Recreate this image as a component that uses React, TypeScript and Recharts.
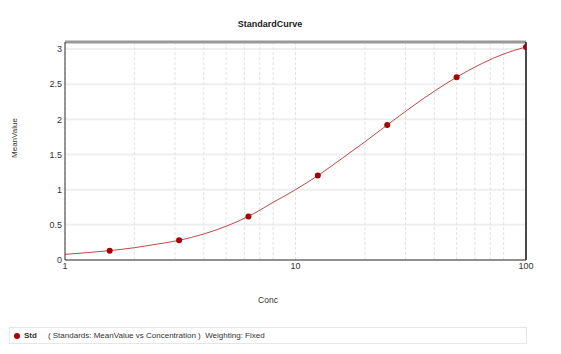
import { ComposedChart, Line, Scatter, XAxis, YAxis, CartesianGrid, ReferenceLine } from 'recharts';

// standards (concentration vs mean value)
const stdConc = [1.5625, 3.125, 6.25, 12.5, 25, 50, 100];
const stdMean = [0.133, 0.28, 0.62, 1.2, 1.92, 2.6, 3.03];

// fitted curve
const fitConc = [1, 1.25, 1.5625, 2, 2.5, 3.125, 4, 5, 6.25, 8, 10, 12.5, 16, 20, 25, 32, 40, 50, 64, 80, 100];
const fitMean = [0.08, 0.105, 0.133, 0.175, 0.225, 0.28, 0.37, 0.48, 0.62, 0.82, 1.0, 1.2, 1.45, 1.68, 1.92, 2.18, 2.4, 2.6, 2.79, 2.93, 3.03];

const yTicks = [0, 0.5, 1, 1.5, 2, 2.5, 3];
const xTicks = [1, 2, 3, 4, 5, 6, 7, 8, 9, 10, 20, 30, 40, 50, 60, 70, 80, 90, 100];
const xLabels = [1, 10, 100];

const points = stdConc.map((x, i) => ({ x, y: stdMean[i] }));
const curve = fitConc.map((x, i) => ({ x, fit: fitMean[i] }));

const font = '"Liberation Sans", Arial, sans-serif';

const Dot = (p: any) => <circle cx={p.cx} cy={p.cy} r={3} fill="#a80000" />;

const App = () => {
  return (
    <div style={{ position: 'fixed', left: 0, top: 0, width: 561, height: 354, background: '#fff', fontFamily: font }}>
      <div style={{ position: 'absolute', left: 170, width: 200, top: 19, textAlign: 'center', fontSize: 9, fontWeight: 'bold', color: '#222' }}>
        StandardCurve
      </div>
      <ComposedChart width={561} height={354} margin={{ top: 42, right: 35, bottom: 74, left: 25 }}>
        <CartesianGrid vertical={false} stroke="#efefef" strokeWidth={2} />
        <CartesianGrid horizontal={false} stroke="#e2e2e2" strokeDasharray="3 2" />
        <XAxis
          dataKey="x"
          type="number"
          scale="log"
          domain={[1, 100]}
          ticks={xTicks}
          tickFormatter={(v: number) => (xLabels.includes(v) ? String(v) : '')}
          allowDataOverflow
          height={20}
          tickSize={0}
          tickMargin={3}
          axisLine={{ stroke: '#333' }}
          tick={{ fill: '#333', fontSize: 9, fontFamily: font }}
        />
        <YAxis
          type="number"
          domain={[0, 3.1]}
          ticks={yTicks}
          allowDataOverflow
          width={40}
          tickSize={0}
          tickMargin={3}
          axisLine={{ stroke: '#333' }}
          tick={{ fill: '#333', fontSize: 9, fontFamily: font }}
        />
        <ReferenceLine y={3.1} stroke="#999" strokeWidth={3} />
        <ReferenceLine x={100} stroke="#111" strokeWidth={1.5} />
        <Line data={curve} dataKey="fit" type="monotone" stroke="#c04848" strokeWidth={1} dot={false} isAnimationActive={false} />
        <Scatter data={points} dataKey="y" shape={Dot} isAnimationActive={false} />
      </ComposedChart>
      <div style={{ position: 'absolute', left: 4, top: 138, transform: 'translate(-50%,-50%) rotate(-90deg)', transformOrigin: 'center', marginLeft: 10, fontSize: 8, color: '#333', whiteSpace: 'nowrap' }}>
        MeanValue
      </div>
      <div style={{ position: 'absolute', left: 218, width: 100, top: 295, textAlign: 'center', fontSize: 8.5, color: '#333' }}>
        Conc
      </div>
      <div style={{ position: 'absolute', left: 9, top: 327, width: 518, height: 17, border: '1px solid #e6e6e6', boxSizing: 'border-box', fontSize: 8, color: '#333', display: 'flex', alignItems: 'center' }}>
        <span style={{ display: 'inline-block', width: 6, height: 6, borderRadius: 3, background: '#a80000', marginLeft: 4 }} />
        <span style={{ fontWeight: 'bold', marginLeft: 4 }}>Std</span>
        <span style={{ marginLeft: 11, whiteSpace: 'pre' }}>( Standards: MeanValue vs Concentration )  Weighting: Fixed</span>
      </div>
    </div>
  );
};

export default App;
